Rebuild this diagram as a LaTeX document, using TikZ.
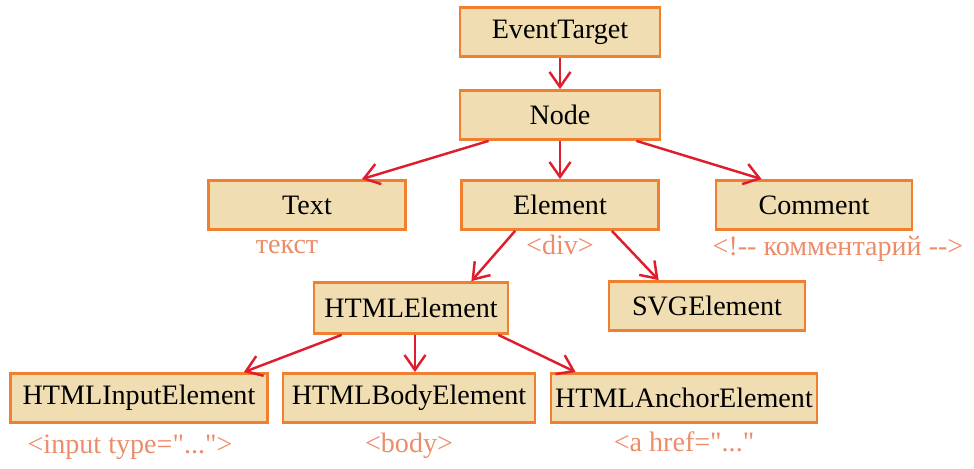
\documentclass[tikz,border=0pt]{standalone}
\usepackage{fontspec}
\setmainfont{Liberation Serif}[Ligatures=TeXOff]
\usepackage{tikz}
\usetikzlibrary{positioning, arrows.meta, calc}

\definecolor{boxfill}{RGB}{240,222,178}
\definecolor{boxline}{RGB}{240,128,48}
\definecolor{arrowred}{RGB}{222,30,45}
\definecolor{tagtext}{RGB}{236,140,105}

\begin{document}
\begin{tikzpicture}[
    x=0.02cm, y=-0.02cm,
    cls/.style={rectangle, draw=boxline, fill=boxfill, line width=1.6pt, minimum height=0.98cm, inner sep=1pt, font=\fontsize{16}{19}\selectfont},
    tag/.style={text=tagtext, inner sep=1pt, font=\fontsize{16}{19}\selectfont},
    inh/.style={draw=arrowred, line width=1.4pt, -{Straight Barb[length=3mm, width=4.2mm, line width=1.4pt]}},
    ]
	\useasboundingbox (0,0) rectangle (974,469);

	% Root
	\node[cls, minimum width=4cm] (ET) at (560,32) {EventTarget};
	\node[cls, minimum width=4cm] (Node) at (560,115) {Node};

	% Second level
	\node[cls, minimum width=3.94cm] (Text) at (307,205) {Text};
	\node[cls, minimum width=3.94cm] (Element) at (560,205) {Element};
	\node[cls, minimum width=3.92cm] (Comment) at (814,205) {Comment};

	% Third level
	\node[cls, minimum width=3.88cm, minimum height=1.02cm] (HTMLElement) at (411,308) {HTMLElement};
	\node[cls, minimum width=3.92cm] (SVGElement) at (707,306) {SVGElement};

	% Fourth level
	\node[cls, minimum width=5.14cm] (Input) at (139,398) {HTMLInputElement};
	\node[cls, minimum width=5.04cm] (Body) at (409,398) {HTMLBodyElement};
	\node[cls, minimum width=5.32cm] (Anchor) at (684,398) {HTMLAnchorElement};

	% Markup examples
	\node[tag, below=4pt of Text, xshift=-0.4cm] (tText) {текст};
	\node[tag, below=1pt of Element] (tElement) {<div>};
	\node[tag, below=2pt of Comment, xshift=0.48cm] (tComment) {<!-- комментарий -->};
	\node[tag, below=5pt of Input, xshift=-0.18cm] (tInput) {<input type="...">};
	\node[tag, below=4pt of Body] (tBody) {<body>};
	\node[tag, below=3.5pt of Anchor] (tAnchor) {<a href="..."};

	% Inheritance arrows
	\draw[inh] (ET) -- (Node);
	\draw[inh] ($(Node.south west)+(30,0)$) -- ($(Text.north east)+(-45,0)$);
	\draw[inh] (Node) -- (Element);
	\draw[inh] ($(Node.south east)+(-25,0)$) -- ($(Comment.north west)+(47,0)$);

	\draw[inh] ($(Element.south west)+(55,0)$) -- ($(HTMLElement.north east)+(-38,0)$);
	\draw[inh] ($(Element.south east)+(-48,0)$) -- ($(SVGElement.north west)+(51,0)$);

	\draw[inh] ($(HTMLElement.south west)+(29,0)$) -- ($(Input.north east)+(-25,0)$);
	\draw[inh] ($(HTMLElement.south)+(4,0)$) -- ($(HTMLElement.south |- Body.north)+(4,0)$);
	\draw[inh] ($(HTMLElement.south east)+(-11,0)$) -- ($(Anchor.north west)+(26,0)$);
\end{tikzpicture}
\end{document}
